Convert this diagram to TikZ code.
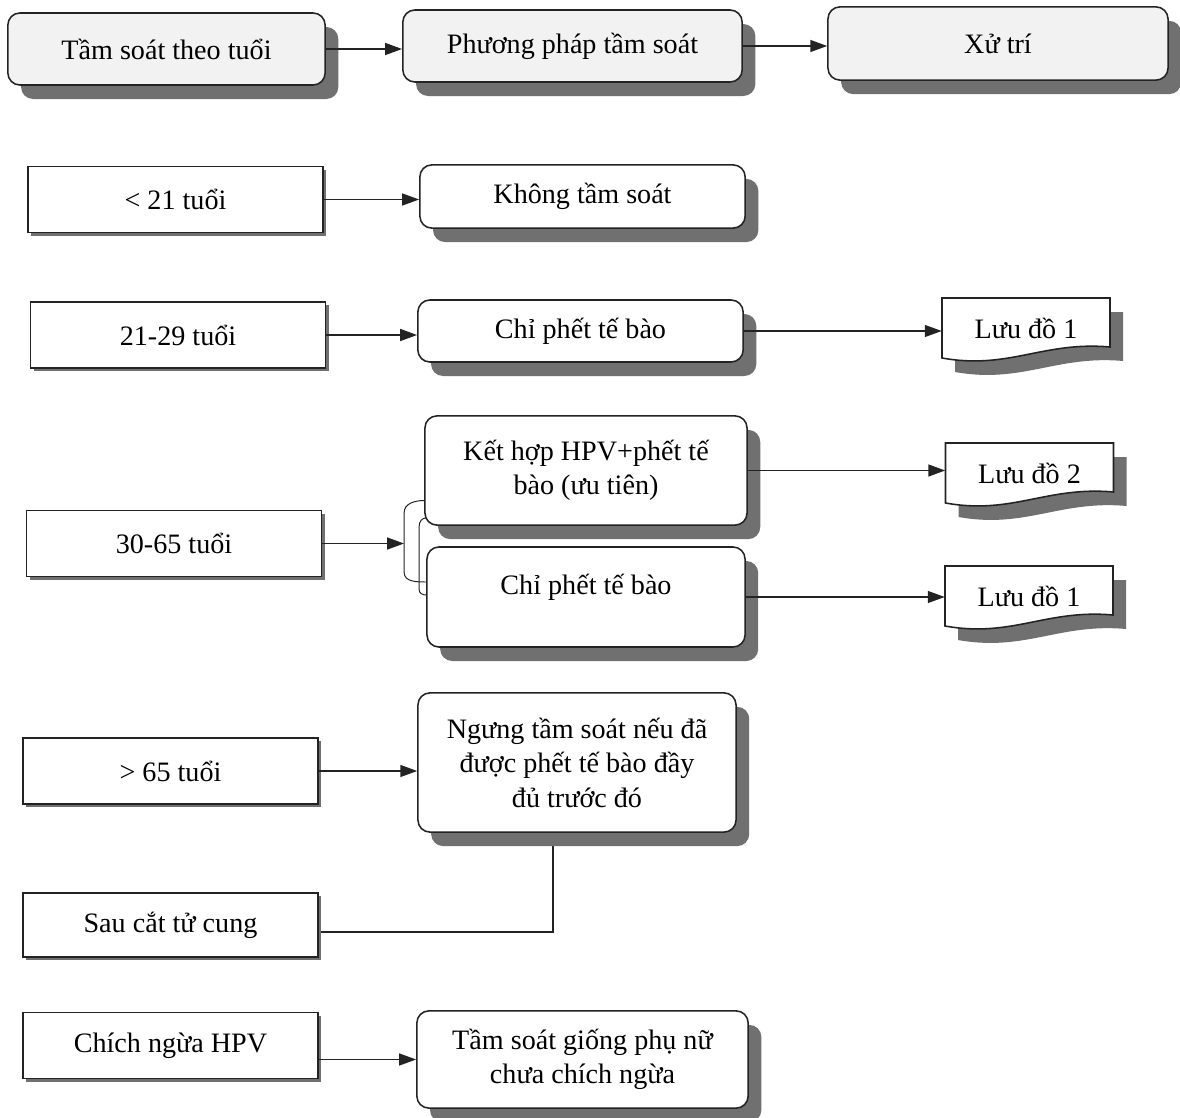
\documentclass[tikz,border=0pt]{standalone}
\usepackage{fontspec}
\setmainfont{Liberation Serif}
\usetikzlibrary{arrows.meta,shadows,calc,backgrounds}
\definecolor{shadowgray}{RGB}{112,112,112}
\definecolor{headfill}{RGB}{242,242,242}
\definecolor{inkline}{RGB}{35,35,35}
\tikzset{
  headbox/.style={draw=inkline, line width=1.1pt, rounded corners=0.3cm, fill=headfill,
    drop shadow={shadow xshift=0.33cm, shadow yshift=-0.35cm, fill=shadowgray, opacity=1}},
  agebox/.style={draw=inkline, line width=1.1pt, fill=white, minimum width=7.38cm, minimum height=1.65cm,
    drop shadow={shadow xshift=0.08cm, shadow yshift=-0.08cm, fill=shadowgray, opacity=1}},
  stepbox/.style={draw=inkline, line width=1.1pt, rounded corners=0.3cm, fill=white,
    drop shadow={shadow xshift=0.33cm, shadow yshift=-0.35cm, fill=shadowgray, opacity=1}},
  arr/.style={draw=inkline, line width=1pt, -{Triangle[length=12pt,width=8.5pt]}},
  link/.style={draw=inkline, line width=1pt},
  pics/luudo/.style={code={
    \fill[shadowgray, shift={(13,14)}] (-84,-30) -- (84,-30) -- (84,19) .. controls (17,13) and (-17,42) .. (-84,30) -- cycle;
    \draw[inkline, line width=1.1pt, fill=white] (-84,-30) -- (84,-30) -- (84,19) .. controls (17,13) and (-17,42) .. (-84,30) -- cycle;
  }}
}
\begin{document}
\begin{tikzpicture}[x=0.025cm, y=-0.025cm, every node/.style={font=\fontsize{20}{24.5}\selectfont, align=center}]
    \useasboundingbox (0,0) rectangle (1180,1118);

    % Hàng tiêu đề
    \node[headbox, minimum width=7.93cm, minimum height=1.8cm] (t1) at (166.5,49) {Tầm soát theo tuổi};
    \node[headbox, minimum width=8.48cm, minimum height=1.8cm] (t2) at (572.5,46) {Phương pháp tầm soát};
    \node[headbox, minimum width=8.5cm, minimum height=1.83cm] (t3) at (998,43.5) {Xử trí};
    \draw[arr] (t1.east) -- (t1.east -| t2.west);
    \draw[arr] (t2.east) -- (t2.east -| t3.west);

    % Nhóm tuổi
    \node[agebox] (a1) at (175.5,199.5) {< 21 tuổi};
    \node[agebox] (a2) at (178,335) {21-29 tuổi};
    \node[agebox] (a3) at (174,543.5) {30-65 tuổi};
    \node[agebox] (a4) at (170.5,771) {> 65 tuổi};
    \node[agebox, minimum height=1.6cm] (a5) at (170.5,925) {Sau cắt tử cung};
    \node[agebox] (a6) at (170.5,1045.5) {Chích ngừa HPV};

    % Phương pháp
    \node[stepbox, minimum width=8.13cm, minimum height=1.58cm] (b1) at (582.5,196.5) {Không tầm soát};
    \node[stepbox, minimum width=8.13cm, minimum height=1.55cm] (b2) at (580.5,331) {Chỉ phết tế bào};
    \node[stepbox, minimum width=8.05cm, minimum height=2.73cm] (b3) at (586,470.5) {Kết hợp HPV+phết tế\\bào (ưu tiên)};
    \node[stepbox, minimum width=7.95cm, minimum height=2.5cm] (b4) at (586,597) {Chỉ phết tế bào\\[-6pt]};
    \node[stepbox, minimum width=7.95cm, minimum height=3.48cm] (b5) at (577,762.5) {Ngưng tầm soát nếu đã\\được phết tế bào đầy\\đủ trước đó};
    \node[stepbox, minimum width=8.28cm, minimum height=2.43cm] (b6) at (582.5,1059.5) {Tầm soát giống phụ nữ\\chưa chích ngừa};

    % Lưu đồ
    \pic at (1026,328) {luudo};
    \pic at (1029.5,473) {luudo};
    \pic at (1029,596) {luudo};
    \node[minimum width=4.2cm, minimum height=1.5cm, inner sep=0pt] (c1) at (1026,328) {Lưu đồ 1};
    \node[minimum width=4.2cm, minimum height=1.5cm, inner sep=0pt] (c2) at (1029.5,473) {Lưu đồ 2};
    \node[minimum width=4.2cm, minimum height=1.5cm, inner sep=0pt] (c3) at (1029,596) {Lưu đồ 1};

    \draw[arr] (a1.east) -- (a1.east -| b1.west);
    \draw[arr] (a2.east) -- (a2.east -| b2.west);
    \draw[arr] (b2.east) -- (b2.east -| c1.west);
    \draw[arr] (b3.east) -- (b3.east -| c2.west);
    \draw[arr] (b4.east) -- (b4.east -| c3.west);
    \draw[arr] (a4.east) -- (a4.east -| b5.west);
    \draw[arr] (a6.east |- b6.west) -- (b6.west);

    % Ngoặc 30-65
    \coordinate (brk) at (404,541);
    \draw[arr] (a3.east) -- (a3.east -| brk);
    \draw[link, line width=0.7pt] ($(b3.west)+(0,30)$) to[out=180,in=90] ++(-20,12) -- ++(0,60) to[out=-90,in=180] ($(b4.west)+(0,-15)$);
    \draw[link, line width=0.7pt] ($(b3.south west)+(2,-8)$) to[out=180,in=90] ++(-7,8) -- ++(0,64) to[out=-90,in=180] ($(b4.west)+(0,-2)$);

    \begin{scope}[on background layer]
        \draw[link] ($(b5.south)+(-24,0)$) |- ($(a5.east)+(0,7)$);
    \end{scope}
\end{tikzpicture}
\end{document}
